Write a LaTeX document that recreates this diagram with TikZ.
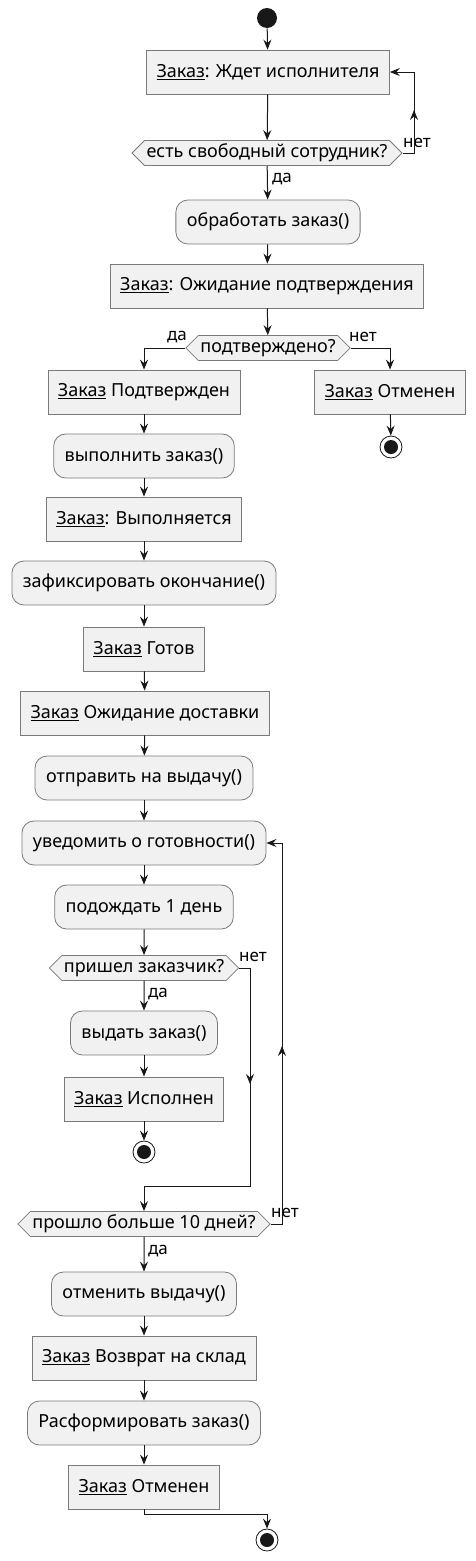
\documentclass[tikz,border=0pt]{standalone}
\usepackage{fontspec}
\setmainfont{Noto Sans}
\usetikzlibrary{shapes.symbols,arrows.meta}
\definecolor{umlfill}{HTML}{F1F1F1}
\definecolor{umlline}{HTML}{181818}
\definecolor{umlborder}{HTML}{7A7A7A}
\tikzset{
  obj/.style={draw=umlborder,line width=0.8pt,fill=umlfill,rectangle,minimum height=44pt,inner xsep=10pt,font=\fontsize{18}{21}\selectfont},
  act/.style={obj,inner xsep=11pt,rounded corners=12pt},
  cond/.style={draw=umlborder,line width=0.8pt,fill=umlfill,signal,signal to=east and west,signal pointer angle=90,minimum height=25pt,inner xsep=2pt,inner ysep=0pt,font=\fontsize{18}{21}\selectfont},
  startdot/.style={circle,fill=umlline,minimum size=20pt,inner sep=0pt},
  enddot/.style={circle,draw=umlline,line width=0.8pt,fill=white,minimum size=22pt,inner sep=0pt},
  lbl/.style={font=\fontsize{17}{19}\selectfont,inner sep=0pt},
}
\newcommand{\zk}{\underline{Заказ}}
\begin{document}
\begin{tikzpicture}[x=1pt,y=-1pt,>={Stealth[length=10pt,width=8pt,inset=3.5pt]},line width=1pt,draw=umlline]
	  \useasboundingbox (0,0) rectangle (476,1561);
	  \node[startdot] (s0) at (267,18) {};
	  \node[obj] (b1) at (268,72) {\zk: Ждет исполнителя};
	  \node[cond] (d1) at (267,153) {есть свободный сотрудник?};
	  \node[act] (a1) at (268,222) {обработать заказ()};
	  \node[obj] (b2) at (267,286) {\zk: Ожидание подтверждения};
	  \node[cond] (d2) at (268,348) {подтверждено?};
	  \node[obj] (b3) at (144,392) {\zk{} Подтвержден};
	  \node[obj] (b4) at (390,392) {\zk{} Отменен};
	  \node[enddot] (e1) at (391,447) {};
	  \node[act] (a2) at (144,456) {выполнить заказ()};
	  \node[obj] (b5) at (144,519) {\zk: Выполняется};
	  \node[act] (a3) at (144,583) {зафиксировать окончание()};
	  \node[obj] (b6) at (144,649) {\zk{} Готов};
	  \node[obj] (b7) at (145,713) {\zk{} Ожидание доставки};
	  \node[act] (a4) at (144,778) {отправить на выдачу()};
	  \node[act] (a5) at (144,843) {уведомить о готовности()};
	  \node[act] (a6) at (144,907) {подождать 1 день};
	  \node[cond] (d3) at (144,968) {пришел заказчик?};
	  \node[act] (a7) at (144,1033) {выдать заказ()};
	  \node[obj] (b8) at (144,1099) {\zk{} Исполнен};
	  \node[enddot] (e2) at (144,1152) {};
	  \node[cond] (d4) at (144,1224) {прошло больше 10 дней?};
	  \node[act] (a8) at (144,1294) {отменить выдачу()};
	  \node[obj] (b9) at (144,1358) {\zk{} Возврат на склад};
	  \node[act] (a9) at (144,1423) {Расформировать заказ()};
	  \node[obj] (b10) at (144,1487) {\zk{} Отменен};
	  \node[enddot] (e3) at (267,1540) {};
	  \fill[umlline] (e1) circle (7);
	  \fill[umlline] (e2) circle (7);
	  \fill[umlline] (e3) circle (7);
	  % labels
	  \node[lbl] (t1) at (417,143) {нет};
	  \node[lbl] (t2) at (282,179) {да};
	  \node[lbl] (t3) at (177,337) {да};
	  \node[lbl] (t4) at (363,337) {нет};
	  \node[lbl] (t5) at (253,957) {нет};
	  \node[lbl] (t6) at (158,994) {да};
	  \node[lbl] (t7) at (285,1213) {нет};
	  \node[lbl] (t8) at (158,1251) {да};
	  % bend points
	  \coordinate (k1) at (414,153);
	  \coordinate (k2) at (414,72);
	  \coordinate (k3) at (414,110);
	  \coordinate (n1) at (250,968);
	  \coordinate (n2) at (250,1186);
	  \coordinate (n3) at (144,1186);
	  \coordinate (n4) at (250,1084);
	  \coordinate (m1) at (282,1224);
	  \coordinate (m2) at (282,843);
	  \coordinate (m3) at (282,1046);
	  \coordinate (f1) at (144,1514);
	  \coordinate (f2) at (267,1514);
	  % arrows
	  \draw[->] (s0) -- (b1);
	  \draw[->] (b1) -- (d1);
	  \draw[->] (d1.east) -- (k1) -- (k2) -- (b1.east);
	  \draw[->] (k1) -- (k3);
	  \draw[->] (d1) -- (a1);
	  \draw[->] (a1) -- (b2);
	  \draw[->] (b2) -- (d2);
	  \draw[->] (d2.west) -| (b3);
	  \draw[->] (d2.east) -| (b4);
	  \draw[->] (b4) -- (e1);
	  \draw[->] (b3) -- (a2);
	  \draw[->] (a2) -- (b5);
	  \draw[->] (b5) -- (a3);
	  \draw[->] (a3) -- (b6);
	  \draw[->] (b6) -- (b7);
	  \draw[->] (b7) -- (a4);
	  \draw[->] (a4) -- (a5);
	  \draw[->] (a5) -- (a6);
	  \draw[->] (a6) -- (d3);
	  \draw[->] (d3) -- (a7);
	  \draw[->] (a7) -- (b8);
	  \draw[->] (b8) -- (e2);
	  \draw[->] (d3.east) -- (n1) -- (n2) -- (n3) -- (d4.north);
	  \draw[->] (n1) -- (n4);
	  \draw[->] (d4.east) -- (m1) -- (m2) -- (a5.east);
	  \draw[->] (m1) -- (m3);
	  \draw[->] (d4) -- (a8);
	  \draw[->] (a8) -- (b9);
	  \draw[->] (b9) -- (a9);
	  \draw[->] (a9) -- (b10);
	  \draw[->] (b10.south) -- (f1) -- (f2) -- (e3);
	\end{tikzpicture}
\end{document}
